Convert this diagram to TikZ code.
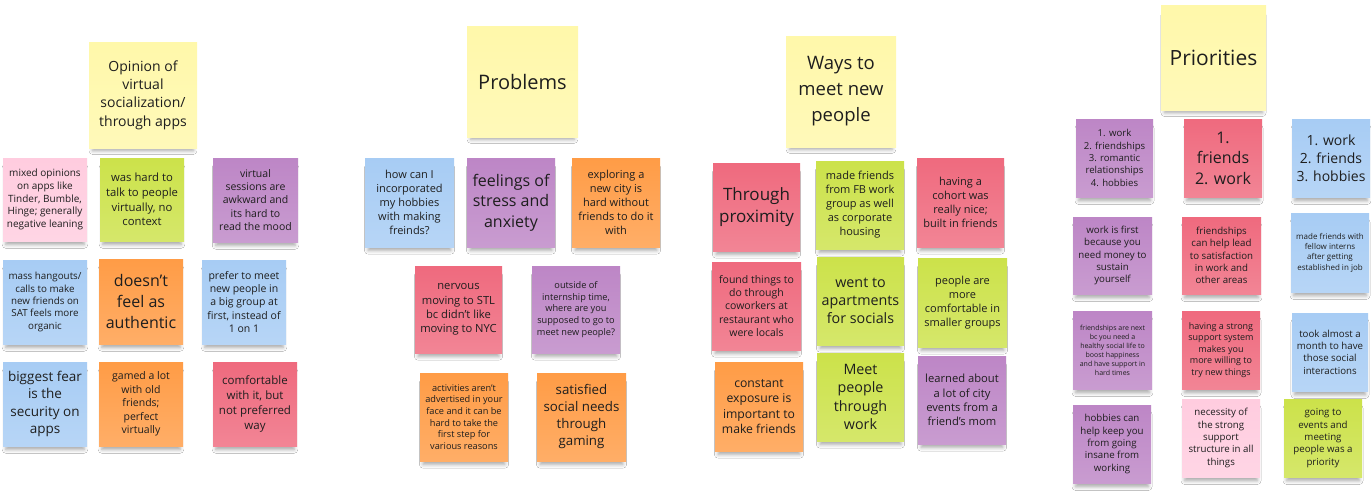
\documentclass[tikz,border=0pt]{standalone}
\usepackage{fontspec}
\setmainfont{Open Sans}
\usetikzlibrary{shadows.blur}
\definecolor{yelc}{HTML}{FFF8AA}
\definecolor{pinkc}{HTML}{FFCCDF}
\definecolor{greenc}{HTML}{CCE24A}
\definecolor{purpc}{HTML}{BD86C6}
\definecolor{bluec}{HTML}{A7CCF4}
\definecolor{orc}{HTML}{FF9C46}
\definecolor{redc}{HTML}{EF6A7E}
\definecolor{textc}{HTML}{1E1E1E}
\tikzset{
  note/.style={draw=none, top color=#1, bottom color=#1!82!white, inner sep=0pt, outer sep=0pt,
    align=center, text=textc,
    blur shadow={shadow xshift=0pt, shadow yshift=-7pt, shadow scale=0.93, shadow blur radius=4pt, shadow opacity=35}}
}
\newcommand\stickynote[9]{\node[note=#2, minimum width=#5pt, minimum height=#6pt, font=\fontsize{#7}{#8}\selectfont] (#1) at (#3,#4) {#9};}
\begin{document}
\begin{tikzpicture}[x=1pt,y=-1pt]
\useasboundingbox (0,0) rectangle (1371,496);
\fill[white] (0,0) rectangle (1371,496);
% Group 1
\stickynote{o0}{yelc}{143}{95}{108}{106}{14}{18.3}{Opinion of\\virtual\\socialization/\\through apps}
\stickynote{o1}{pinkc}{45}{199.5}{84}{83}{10}{12.6}{mixed opinions\\on apps like\\Tinder, Bumble,\\Hinge; generally\\negative leaning}
\stickynote{o2}{greenc}{142}{199.5}{84}{83}{11.3}{14.7}{was hard to\\talk to people\\virtually, no\\context}
\stickynote{o3}{purpc}{255.5}{200}{85}{84}{10.5}{13.4}{virtual\\sessions are\\awkward and\\its hard to\\read the mood}
\stickynote{o4}{bluec}{45}{302}{84}{84}{9.8}{12.4}{mass hangouts/\\calls to make\\new friends on\\SAT feels more\\organic}
\stickynote{o5}{orc}{141}{301.5}{84}{85}{16}{21}{doesn't\\feel as\\authentic}
\stickynote{o6}{bluec}{244}{302}{84}{84}{10.5}{13.4}{prefer to meet\\new people in\\a big group at\\first, instead of\\1 on 1}
\stickynote{o7}{bluec}{45}{404}{84}{84}{13.5}{17.4}{biggest fear\\is the\\security on\\apps}
\stickynote{o8}{orc}{141}{404}{84}{84}{10.5}{13.4}{gamed a lot\\with old\\friends;\\perfect\\virtually}
\stickynote{o9}{redc}{255}{404}{84}{84}{11.5}{15}{comfortable\\with it, but\\not preferred\\way}
% Group 2
\stickynote{p0}{yelc}{522.5}{81.5}{111}{111}{20}{24}{Problems}
\stickynote{p1}{bluec}{409.5}{202.5}{89}{89}{11}{14}{how can I\\incorporated\\my hobbies\\with making\\freinds?}
\stickynote{p2}{purpc}{511}{202.5}{88}{89}{16}{20.7}{feelings of\\stress and\\anxiety}
\stickynote{p3}{orc}{616}{202.5}{88}{89}{11}{14}{exploring a\\new city is\\hard without\\friends to do it\\with}
\stickynote{p4}{redc}{458.5}{309.5}{87}{87}{11.2}{14.3}{nervous\\moving to STL\\bc didn't like\\moving to NYC}
\stickynote{p5}{purpc}{576}{309.5}{88}{87}{9.2}{11.7}{outside of\\internship time,\\where are you\\supposed to go to\\meet new people?}
\stickynote{p6}{orc}{464}{417}{88}{88}{9.2}{11.7}{activities aren't\\advertised in your\\face and it can be\\hard to take the\\first step for\\various reasons}
\stickynote{p7}{orc}{581.5}{417}{89}{88}{13.3}{17}{satisfied\\social needs\\through\\gaming}
% Group 3
\stickynote{w0}{yelc}{841}{91.5}{110}{111}{18.5}{26}{Ways to\\meet new\\people}
\stickynote{w1}{redc}{756.5}{207}{87}{88}{17}{22.3}{Through\\proximity}
\stickynote{w2}{greenc}{860}{205}{88}{88}{11}{14}{made friends\\from FB work\\group as well\\as corporate\\housing}
\stickynote{w3}{redc}{960.5}{202.5}{87}{89}{11}{14}{having a\\cohort was\\really nice;\\built in friends}
\stickynote{w4}{redc}{756.5}{306}{89}{88}{10.5}{13.3}{found things to\\do through\\coworkers at\\restaurant who\\were locals}
\stickynote{w5}{greenc}{860.5}{301}{87}{88}{14.3}{18.3}{went to\\apartments\\for socials}
\stickynote{w6}{greenc}{962.5}{302.5}{89}{89}{11}{14}{people are\\more\\comfortable in\\smaller groups}
\stickynote{w7}{orc}{759}{406.5}{88}{89}{12.2}{15.6}{constant\\exposure is\\important to\\make friends}
\stickynote{w8}{greenc}{860.5}{397}{87}{88}{14.3}{18.3}{Meet\\people\\through\\work}
\stickynote{w9}{purpc}{962}{400}{88}{88}{11.2}{14.3}{learned about\\a lot of city\\events from a\\friend's mom}
% Group 4
\stickynote{r0}{yelc}{1213.5}{57.5}{105}{105}{21}{25}{Priorities}
\stickynote{r1}{purpc}{1114.5}{158}{77}{78}{9.6}{12.3}{1. work\\2. friendships\\3. romantic\\relationships\\4. hobbies}
\stickynote{r2}{redc}{1223}{158}{78}{78}{16}{20.5}{1.\\friends\\2. work}
\stickynote{r3}{bluec}{1331}{158}{78}{78}{14}{18}{1. work\\2. friends\\3. hobbies}
\stickynote{r4}{purpc}{1112.5}{255.5}{79}{77}{9.7}{12.4}{work is first\\because you\\need money to\\sustain\\yourself}
\stickynote{r5}{redc}{1221.5}{255.5}{79}{77}{9.7}{12.4}{friendships\\can help lead\\to satisfaction\\in work and\\other areas}
\stickynote{r6}{bluec}{1330}{252.5}{78}{79}{8}{10.3}{made friends with\\fellow interns\\after getting\\established in job}
\stickynote{r7}{purpc}{1112.5}{350}{79}{78}{7}{9}{friendships are next\\bc you need a\\healthy social life to\\boost happiness\\and have support in\\hard times}
\stickynote{r8}{redc}{1221}{350}{78}{78}{9}{11.6}{having a strong\\support system\\makes you\\more willing to\\try new things}
\stickynote{r9}{bluec}{1330}{352}{76}{78}{9.7}{12.4}{took almost a\\month to have\\those social\\interactions}
\stickynote{r10}{purpc}{1112}{444}{78}{78}{9.7}{12.4}{hobbies can\\help keep you\\from going\\insane from\\working}
\stickynote{r11}{pinkc}{1221}{438}{78}{78}{9.7}{12.4}{necessity of\\the strong\\support\\structure in all\\things}
\stickynote{r12}{greenc}{1323}{438}{78}{78}{9.7}{12.4}{going to\\events and\\meeting\\people was a\\priority}
\end{tikzpicture}
\end{document}
